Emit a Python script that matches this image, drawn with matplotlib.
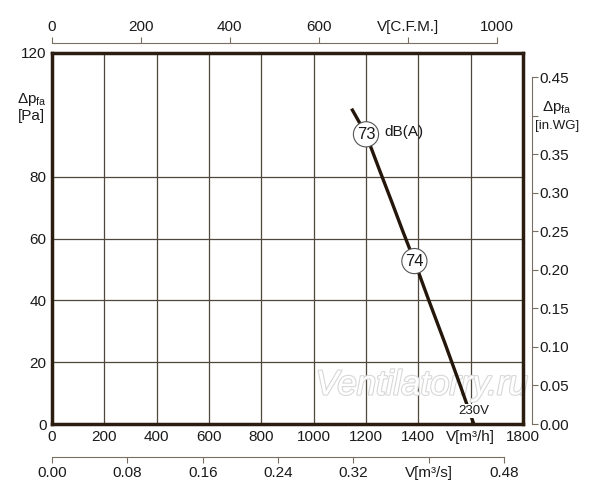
import matplotlib
matplotlib.use("Agg")
import matplotlib.pyplot as plt
import matplotlib.patheffects as pe

plt.rcParams["font.family"] = ["Liberation Sans", "DejaVu Sans"]

# characteristic curve, 230V
flow_m3h = [1145, 1175, 1200, 1250, 1300, 1340, 1385, 1440, 1500, 1560, 1612]
pressure_pa = [102, 97.5, 93.7, 82.5, 71.5, 62.5, 52.7, 40, 26.5, 12.5, 0]

# noise markers on the curve
noise_flow = [1200, 1385]
noise_pa = [93.7, 52.7]
noise_db = ["73", "74"]

x_ticks = [0, 200, 400, 600, 800, 1000, 1200, 1400, 1600, 1800]
x_labels = ["0", "200", "400", "600", "800", "1000", "1200", "1400", "V[m³/h]", "1800"]
y_ticks = [0, 20, 40, 60, 80, 120]
y_labels = ["0", "20", "40", "60", "80", "120"]
cfm_ticks = [0, 200, 400, 600, 800, 1000]
cfm_labels = ["0", "200", "400", "600", "V[C.F.M.]", "1000"]
m3s_ticks = [0.0, 0.08, 0.16, 0.24, 0.32, 0.40, 0.48]
m3s_labels = ["0.00", "0.08", "0.16", "0.24", "0.32", "V[m³/s]", "0.48"]
inwg_ticks = [0.0, 0.05, 0.10, 0.15, 0.20, 0.25, 0.30, 0.35, 0.40, 0.45]
inwg_labels = ["0.00", "0.05", "0.10", "0.15", "0.20", "0.25", "0.30", "0.35", "", "0.45"]

CFM = 1.699      # m3/h per CFM
INWG = 249.089   # Pa per inch WG

FRAME = "#2b1d10"
GRID = "#4f463c"
AXIS = "#7a6e62"
TXT = "#1a1a1a"
FS = 11

fig = plt.figure(figsize=(6, 5), dpi=100)
L, R = 52 / 600, 523 / 600
B, T = 1 - 424 / 500, 1 - 53 / 500

ax = fig.add_axes([L, B, R - L, T - B])
ax.set_xlim(0, 1800)
ax.set_ylim(0, 120)
ax.set_xticks(x_ticks)
ax.set_xticklabels(x_labels)
ax.set_yticks(y_ticks)
ax.set_yticklabels(y_labels)
ax.tick_params(length=0, labelsize=FS, labelcolor=TXT, pad=4)
ax.grid(True, color=GRID, lw=0.9)
for s in ax.spines.values():
    s.set_color(FRAME)
    s.set_linewidth(2.5)
    s.set_zorder(5)

ax.text(1414, 12.6, "Ventilatorry.ru", ha="center", va="center", fontsize=25,
        style="italic", color="white", zorder=3,
        path_effects=[pe.withStroke(linewidth=1.6, foreground="#d8d8d8")])

ax.plot(flow_m3h, pressure_pa, color="#24160a", lw=2.4, zorder=4, solid_capstyle="butt")
for fx, fy, db in zip(noise_flow, noise_pa, noise_db):
    ax.text(fx, fy, db, ha="center", va="center", fontsize=12, color=TXT, zorder=6,
            bbox=dict(boxstyle="circle,pad=0.2", fc="white", ec="#555555", lw=0.8))
ax.text(1272, 94.4, "dB(A)", ha="left", va="center", fontsize=FS, color=TXT, zorder=6)
ax.text(1553, 4.2, "230V", ha="left", va="center", fontsize=9.5, color=TXT, zorder=6,
        bbox=dict(boxstyle="square,pad=0.05", fc="white", ec="none"))

# pressure labels in place of the 100 Pa / 0.40 in.WG ticks
fig.text(47 / 600, 1 - 100 / 500, "Δp$_{\\mathregular{fa}}$", ha="right", va="center",
         fontsize=FS, color=TXT)
fig.text(45 / 600, 1 - 116 / 500, "[Pa]", ha="right", va="center", fontsize=FS, color=TXT)
fig.text(557 / 600, 1 - 108 / 500, "Δp$_{\\mathregular{fa}}$", ha="center", va="center",
         fontsize=FS, color=TXT)
fig.text(557 / 600, 1 - 126 / 500, "[in.WG]", ha="center", va="center", fontsize=9.5,
         color=TXT)

# top axis: C.F.M.
top = fig.add_axes([L, 1 - 43 / 500, R - L, 0.001])
top.set_xlim(0, 1800 / CFM)
top.patch.set_visible(False)
top.set_yticks([])
for k in ("left", "right", "bottom"):
    top.spines[k].set_visible(False)
top.spines["top"].set_bounds(0, 1000)
top.spines["top"].set_color(AXIS)
top.xaxis.set_ticks_position("top")
top.set_xticks(cfm_ticks)
top.set_xticklabels(cfm_labels)
top.tick_params(axis="x", direction="out", length=4.5, color=AXIS, labelsize=FS,
                labelcolor=TXT, pad=1.5)

# bottom axis: m3/s
bot = fig.add_axes([L, 1 - 457 / 500, R - L, 0.001])
bot.set_xlim(0, 1800 / 3600)
bot.patch.set_visible(False)
bot.set_yticks([])
for k in ("left", "right", "top"):
    bot.spines[k].set_visible(False)
bot.spines["bottom"].set_bounds(0, 0.48)
bot.spines["bottom"].set_color(AXIS)
bot.set_xticks(m3s_ticks)
bot.set_xticklabels(m3s_labels)
bot.tick_params(axis="x", direction="out", length=4.5, color=AXIS, labelsize=FS,
                labelcolor=TXT, pad=2)

# right axis: in.WG
rgt = fig.add_axes([532 / 600 - 0.001, B, 0.001, T - B])
rgt.set_ylim(0, 120 / INWG)
rgt.patch.set_visible(False)
rgt.set_xticks([])
for k in ("left", "top", "bottom"):
    rgt.spines[k].set_visible(False)
rgt.spines["right"].set_bounds(0, 0.45)
rgt.spines["right"].set_color(AXIS)
rgt.yaxis.set_ticks_position("right")
rgt.set_yticks(inwg_ticks)
rgt.set_yticklabels(inwg_labels)
rgt.tick_params(axis="y", direction="out", length=4, color=AXIS, labelsize=FS,
                labelcolor=TXT, pad=1.5)

fig.savefig("out.png", dpi=100)
